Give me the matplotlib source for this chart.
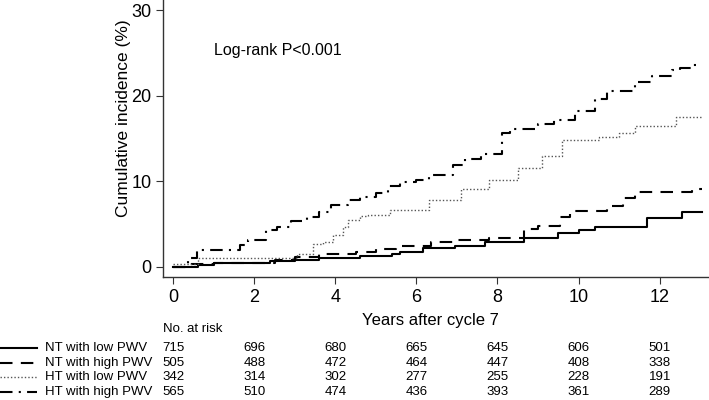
import matplotlib
matplotlib.use('Agg')
import matplotlib.pyplot as plt
from matplotlib.lines import Line2D
from matplotlib.transforms import blended_transform_factory

plt.rcParams['font.family'] = ['Liberation Sans', 'DejaVu Sans']

# step curves: event times (years) and cumulative incidence (%)
NT_LOW_T = [0, 0.6, 1.0, 2.4, 3.0, 3.6, 4.6, 5.4, 5.6, 6.15, 6.95, 7.7, 8.65, 9.5, 10.0, 10.4, 11.7, 12.55, 13.05]
NT_LOW_Y = [0, 0.2, 0.4, 0.65, 0.85, 1.05, 1.25, 1.5, 1.7, 2.15, 2.4, 2.9, 3.4, 3.9, 4.3, 4.7, 5.65, 6.4, 6.4]

NT_HIGH_T = [0, 0.3, 1.0, 2.5, 3.0, 3.6, 4.5, 5.0, 5.5, 6.35, 7.0, 7.8, 8.65, 9.0, 9.55, 9.8, 10.7, 11.1, 11.4, 12.8, 13.05]
NT_HIGH_Y = [0, 0.3, 0.5, 0.85, 1.2, 1.45, 1.75, 2.1, 2.4, 2.85, 3.1, 3.4, 4.4, 4.8, 5.8, 6.5, 7.1, 8.0, 8.7, 9.05, 9.05]

HT_LOW_T = [0, 0.6, 3.05, 3.45, 3.7, 3.95, 4.2, 4.3, 4.6, 4.8, 5.35, 6.3, 7.1, 7.8, 8.5, 9.1, 9.6, 10.5, 11.0, 11.4, 12.4, 13.05]
HT_LOW_Y = [0.3, 1.0, 1.5, 2.7, 2.9, 3.7, 4.7, 5.5, 5.9, 6.0, 6.7, 7.8, 9.1, 10.1, 11.5, 13.0, 14.8, 15.2, 15.7, 16.5, 17.5, 17.5]

HT_HIGH_T = [0, 0.37, 0.58, 1.65, 1.85, 2.3, 2.55, 2.9, 3.3, 3.6, 3.9, 4.3, 4.6, 5.0, 5.3, 5.6, 6.0, 6.3, 6.9, 7.2, 7.6,
             8.1, 8.3, 9.0, 9.4, 9.9, 10.4, 10.7, 11.4, 11.8, 12.3, 12.5, 12.8, 13.05]
HT_HIGH_Y = [0, 1.0, 2.0, 2.6, 3.1, 4.3, 4.7, 5.3, 5.8, 6.4, 7.2, 7.8, 8.2, 8.6, 9.5, 9.9, 10.2, 10.7, 11.9, 12.6, 13.2,
             15.6, 16.1, 16.7, 17.2, 18.2, 19.6, 20.6, 21.6, 22.3, 23.0, 23.3, 23.6, 23.6]

GROUPS = ['NT with low PWV', 'NT with high PWV', 'HT with low PWV', 'HT with high PWV']
RISK_TIMES = [0, 2, 4, 6, 8, 10, 12]
AT_RISK = [
    [715, 696, 680, 665, 645, 606, 501],
    [505, 488, 472, 464, 447, 408, 338],
    [342, 314, 302, 277, 255, 228, 191],
    [565, 510, 474, 436, 393, 361, 289],
]

fig = plt.figure(figsize=(7.09, 4.0), dpi=100)
ax = fig.add_axes([0.23, 0.308, 0.769, 0.692])

styles = [
    dict(color='black', lw=1.5, ls='-'),
    dict(color='black', lw=1.5, ls=(0, (6, 4))),
    dict(color='#555555', lw=1.0, ls=(0, (1, 1.5))),
    dict(color='black', lw=1.5, ls=(0, (6, 3, 1, 3))),
]
curves = [(NT_LOW_T, NT_LOW_Y), (NT_HIGH_T, NT_HIGH_Y), (HT_LOW_T, HT_LOW_Y), (HT_HIGH_T, HT_HIGH_Y)]
for (t, y), st in zip(curves, styles):
    ax.step(t, y, where='post', **st)

ax.set_xlim(-0.25, 13.2)
ax.set_ylim(-1.17, 31.2)
ax.set_xticks(RISK_TIMES)
ax.set_yticks([0, 10, 20, 30])
for s in ['top', 'right']:
    ax.spines[s].set_visible(False)
for s in ['left', 'bottom']:
    ax.spines[s].set_color('#333333')
    ax.spines[s].set_linewidth(1.0)
ax.tick_params(labelsize=13, length=5, color='#333333', direction='out')

ax.set_ylabel('Cumulative incidence (%)', fontsize=12.5)
ax.yaxis.set_label_coords(-0.058, 0.574)
ax.set_xlabel('Years after cycle 7', fontsize=12)
ax.xaxis.set_label_coords(0.49, -0.13)

ax.text(1.0, 25.3, 'Log-rank P<0.001', fontsize=11.5, va='center', ha='left')

# number at risk table
tr = blended_transform_factory(ax.transData, fig.transFigure)
row_y = [0.13, 0.0925, 0.0575, 0.02]
fig.text(163 / 709, 0.1775, 'No. at risk', fontsize=9.5, va='center', ha='left')
for i, (name, st) in enumerate(zip(GROUPS, styles)):
    y = row_y[i]
    fig.add_artist(Line2D([0.0, 37 / 709], [y, y], transform=fig.transFigure, **st))
    fig.text(45 / 709, y, name, fontsize=9.5, va='center', ha='left')
    for t, n in zip(RISK_TIMES, AT_RISK[i]):
        ax.text(t, y, str(n), transform=tr, fontsize=9.5, va='center', ha='center')

fig.savefig('out.png', dpi=100)
